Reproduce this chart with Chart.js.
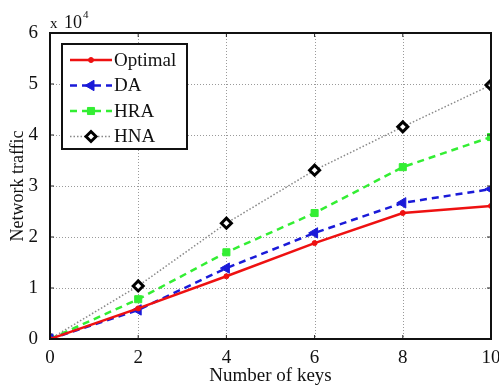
<!DOCTYPE html>
<html><head><meta charset="utf-8">
<script src="https://cdn.jsdelivr.net/npm/chart.js@4.4.0/dist/chart.umd.min.js"></script>
<style>html,body{margin:0;padding:0;background:#fff}#w{width:499px;height:385px}</style>
</head><body><div id="w"><canvas id="c"></canvas></div>
<script>
const keys = [0, 2, 4, 6, 8, 10];
const optimal = [0, 6000, 12300, 18800, 24700, 26100];
const da = [0, 5700, 13900, 20800, 26700, 29400];
const hra = [0, 7800, 17000, 24700, 33700, 39600];
const hna = [0, 10400, 22700, 33100, 41600, 49800];
const seriesNames = ['Optimal', 'DA', 'HRA', 'HNA'];
const yTicks = [0, 10000, 20000, 30000, 40000, 50000, 60000];
const xTicks = [0, 2, 4, 6, 8, 10];

const serif = "'Liberation Serif','Times New Roman',serif";
const pts = arr => arr.map((v, i) => ({x: keys[i], y: v}));

const datasets = [
  {label: seriesNames[0], data: pts(optimal), borderColor: '#ee1111', backgroundColor: '#ee1111', borderWidth: 2.5,
   pointStyle: 'circle', pointRadius: 2.5, pointBorderWidth: 1},
  {label: seriesNames[1], data: pts(da), borderColor: '#1a1ad8', backgroundColor: '#1a1ad8', borderWidth: 2.5, borderDash: [7, 5],
   pointStyle: 'triangle', pointRotation: -90, pointRadius: 6, pointBorderWidth: 1},
  {label: seriesNames[2], data: pts(hra), borderColor: '#33ee33', backgroundColor: '#33ee33', borderWidth: 2.5, borderDash: [7, 5],
   pointStyle: 'rect', pointRadius: 5, pointBorderWidth: 1},
  {label: seriesNames[3], data: pts(hna), borderColor: '#888888', backgroundColor: '#ffffff', borderWidth: 1.5, borderDash: [1.5, 2],
   pointStyle: 'rectRot', pointRadius: 5, pointBorderColor: '#000', pointBorderWidth: 3}
];

const gridPlugin = {
  id: 'dotgrid',
  beforeDatasetsDraw(chart) {
    const {ctx, chartArea: a, scales} = chart;
    ctx.save();
    ctx.strokeStyle = '#9a9a9a'; ctx.lineWidth = 1; ctx.setLineDash([1, 2]);
    xTicks.forEach(v => {
      const x = Math.round(scales.x.getPixelForValue(v)) + 0.5;
      ctx.beginPath(); ctx.moveTo(x, a.top); ctx.lineTo(x, a.bottom); ctx.stroke();
    });
    yTicks.forEach(v => {
      const y = Math.round(scales.y.getPixelForValue(v)) + 0.5;
      ctx.beginPath(); ctx.moveTo(a.left, y); ctx.lineTo(a.right, y); ctx.stroke();
    });
    ctx.restore();
  }
};

const frame = {
  id: 'frame',
  afterDraw(chart) {
    const {ctx, chartArea: a, scales} = chart;
    ctx.save();
    ctx.strokeStyle = '#222'; ctx.lineWidth = 1; ctx.setLineDash([]);
    xTicks.forEach(v => {
      const x = scales.x.getPixelForValue(v);
      ctx.beginPath(); ctx.moveTo(x, a.bottom); ctx.lineTo(x, a.bottom - 4);
      ctx.moveTo(x, a.top); ctx.lineTo(x, a.top + 4); ctx.stroke();
    });
    yTicks.forEach(v => {
      const y = scales.y.getPixelForValue(v);
      ctx.beginPath(); ctx.moveTo(a.left, y); ctx.lineTo(a.left + 4, y);
      ctx.moveTo(a.right, y); ctx.lineTo(a.right - 4, y); ctx.stroke();
    });
    ctx.strokeStyle = '#111'; ctx.lineWidth = 2;
    ctx.strokeRect(a.left, a.top, a.right - a.left, a.bottom - a.top);
    ctx.fillStyle = '#111'; ctx.textBaseline = 'alphabetic'; ctx.textAlign = 'left';
    ctx.font = '15px ' + serif;
    ctx.fillText('x', a.left, a.top - 5);
    ctx.font = '18px ' + serif;
    ctx.fillText('10', a.left + 14, a.top - 5);
    ctx.font = '11px ' + serif;
    ctx.fillText('4', a.left + 33, a.top - 15);
    const lx = 62, ly = 44, lw = 125, lh = 105;
    ctx.fillStyle = '#fff'; ctx.fillRect(lx, ly, lw, lh);
    ctx.strokeStyle = '#111'; ctx.lineWidth = 2; ctx.strokeRect(lx, ly, lw, lh);
    chart.data.datasets.forEach((ds, i) => {
      const y = ly + 16 + i * 25.5;
      ctx.save();
      ctx.strokeStyle = ds.borderColor; ctx.lineWidth = ds.borderWidth;
      ctx.setLineDash(ds.borderDash || []);
      ctx.beginPath(); ctx.moveTo(lx + 8, y); ctx.lineTo(lx + 50, y); ctx.stroke();
      ctx.setLineDash([]);
      ctx.fillStyle = ds.backgroundColor; ctx.strokeStyle = ds.pointBorderColor || ds.borderColor;
      ctx.lineWidth = ds.pointBorderWidth;
      Chart.helpers.drawPoint(ctx, {pointStyle: ds.pointStyle, rotation: ds.pointRotation || 0, radius: ds.pointRadius, borderWidth: ds.pointBorderWidth}, lx + 29, y);
      ctx.restore();
      ctx.fillStyle = '#111'; ctx.font = '19px ' + serif; ctx.textBaseline = 'middle'; ctx.textAlign = 'left';
      ctx.fillText(ds.label, lx + 52, y + 1);
    });
    ctx.restore();
  }
};

new Chart(document.getElementById('c'), {
  type: 'line',
  data: {datasets},
  options: {
    responsive: true, maintainAspectRatio: false, animation: false,
    layout: {padding: {top: 33, right: 8, left: 0, bottom: 0}},
    plugins: {legend: {display: false}, tooltip: {enabled: false}},
    scales: {
      x: {
        type: 'linear', min: 0, max: 10,
        afterBuildTicks: s => { s.ticks = xTicks.map(v => ({value: v})); },
        afterFit: s => { s.height = 46; s.paddingLeft = 0; s.paddingRight = 0; },
        border: {display: false},
        grid: {display: false},
        ticks: {color: '#111', font: {family: serif, size: 19}, padding: 0, maxRotation: 0},
        title: {display: true, text: 'Number of keys', color: '#111', font: {family: serif, size: 19}, padding: {top: 0, bottom: -2}}
      },
      y: {
        min: 0, max: 60000,
        afterBuildTicks: s => { s.ticks = yTicks.map(v => ({value: v})); },
        afterFit: s => { s.width = 50; s.paddingTop = 0; s.paddingBottom = 0; },
        border: {display: false},
        grid: {display: false},
        ticks: {color: '#111', font: {family: serif, size: 19}, padding: 4, callback: v => String(v / 10000)},
        title: {display: true, text: 'Network traffic', color: '#111', font: {family: serif, size: 18}, padding: {top: 7, bottom: 0}}
      }
    }
  },
  plugins: [gridPlugin, frame]
});
</script></body></html>
